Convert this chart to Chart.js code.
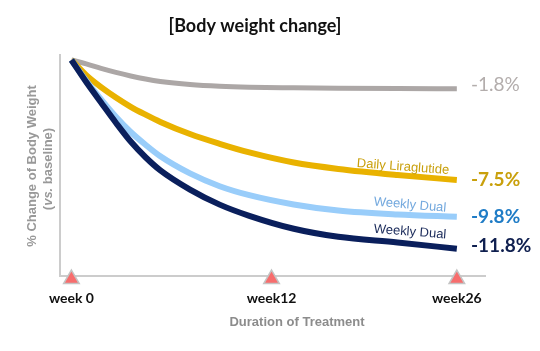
<!DOCTYPE html>
<html>
<head>
<meta charset="utf-8">
<script src="https://cdn.jsdelivr.net/npm/chart.js@4.4.0/dist/chart.umd.min.js"></script>
<style>
  html, body { margin: 0; padding: 0; background: #fff; }
  #wrap { width: 540px; height: 351px; }
</style>
</head>
<body>
<div id="wrap"><canvas id="bwChart" width="540" height="351"></canvas></div>
<script>
// weeks along the treatment (x positions)
var weeks = [0, 1, 2, 3, 4, 5, 6, 8, 10, 12, 15, 18, 22, 26];

// % change of body weight vs. baseline
var placebo     = [0, -0.25, -0.53, -0.78, -1.0, -1.19, -1.34, -1.53, -1.64, -1.7, -1.74, -1.77, -1.79, -1.8];
var liraglutide = [0, -0.95, -1.7, -2.35, -2.93, -3.42, -3.87, -4.63, -5.24, -5.78, -6.41, -6.81, -7.19, -7.5];
var dualLow     = [0, -1.31, -2.47, -3.55, -4.5, -5.3, -6.02, -7.09, -7.89, -8.45, -9.03, -9.41, -9.66, -9.8];
var dualHigh    = [0, -1.38, -2.66, -3.92, -5.1, -6.08, -6.9, -8.1, -9.04, -9.74, -10.55, -11.05, -11.4, -11.8];

// tick marks on the time axis (positions as drawn) and their labels
var tickPos = [0, 13.5, 26];
var tickLabels = ['week 0', 'week12', 'week26'];

var endLabels = ['-1.8%', '-7.5%', '-9.8%', '-11.8%'];
var seriesNames = ['', 'Daily Liraglutide', 'Weekly Dual', 'Weekly Dual'];

function toPoints(vals) {
    return weeks.map(function(w, i) { return { x: w, y: vals[i] }; });
}

var yMin = -13.5, yMax = 0.31;

var markers = tickPos.map(function(p) { return { x: p, y: -13.69 }; });

var annotate = {
    id: 'annotate',
    afterDraw: function(chart) {
        var c = chart.ctx;
        c.save();

        // title
        c.fillStyle = '#111';
        c.font = 'bold 18px Lato';
        c.textAlign = 'center';
        c.textBaseline = 'middle';
        c.fillText('[Body weight change]', 255, 26);

        // x axis title
        c.fillStyle = '#8c8c8c';
        c.font = 'bold 13px "Liberation Sans"';
        c.fillText('Duration of Treatment', 297, 322);

        // y axis title (two lines, rotated)
        c.save();
        c.translate(32, 166);
        c.rotate(-Math.PI / 2);
        c.fillStyle = '#999999';
        c.font = 'bold 13px "Liberation Sans"';
        c.fillText('% Change of Body Weight', 0, 0);
        c.restore();

        c.save();
        c.translate(48, 169);
        c.rotate(-Math.PI / 2);
        c.fillStyle = '#999999';
        c.textAlign = 'left';
        var p1 = '(', p2 = 'vs.', p3 = ' baseline)';
        c.font = 'bold 13px "Liberation Sans"';
        var w1 = c.measureText(p1).width, w3 = c.measureText(p3).width;
        c.font = 'italic bold 13px "Liberation Sans"';
        var w2 = c.measureText(p2).width;
        var sx = -(w1 + w2 + w3) / 2;
        c.font = 'bold 13px "Liberation Sans"';
        c.fillText(p1, sx, 0);
        c.font = 'italic bold 13px "Liberation Sans"';
        c.fillText(p2, sx + w1, 0);
        c.font = 'bold 13px "Liberation Sans"';
        c.fillText(p3, sx + w1 + w2, 0);
        c.restore();

        // end values
        var endCols = ['#b3adac', '#c9a00c', '#1f7cc6', '#0f1f4f'];
        var endY = [85, 180, 217, 246];
        c.textAlign = 'left';
        for (var i = 0; i < 4; i++) {
            c.fillStyle = endCols[i];
            c.font = (i === 0 ? '' : 'bold ') + '19px Lato';
            c.fillText(endLabels[i], 471, endY[i]);
        }

        // series names along the curves
        var nameCols = ['', '#c9a00c', '#74a9de', '#1a2a5a'];
        var nameCx = [0, 403, 410, 410];
        var nameCy = [0, 167, 205, 232];
        var nameRot = [0, 4.3, 5, 4.5];
        c.textAlign = 'center';
        c.font = '13px "Liberation Sans"';
        for (var j = 1; j < 4; j++) {
            c.save();
            c.translate(nameCx[j], nameCy[j]);
            c.rotate(nameRot[j] * Math.PI / 180);
            c.fillStyle = nameCols[j];
            c.fillText(seriesNames[j], 0, 0);
            c.restore();
        }
        c.restore();
    }
};

var ctx = document.getElementById('bwChart').getContext('2d');
var bwChart = new Chart(ctx, {
    type: 'line',
    data: {
        datasets: [
            {
                label: 'Weekly Dual (high)',
                data: toPoints(dualHigh),
                borderColor: '#0a1f5c',
                borderWidth: 6,
                pointRadius: 0,
                cubicInterpolationMode: 'monotone'
            },
            {
                label: 'Weekly Dual',
                data: toPoints(dualLow),
                borderColor: '#99cdfa',
                borderWidth: 6,
                pointRadius: 0,
                cubicInterpolationMode: 'monotone'
            },
            {
                label: 'Daily Liraglutide',
                data: toPoints(liraglutide),
                borderColor: '#e9b200',
                borderWidth: 6,
                pointRadius: 0,
                cubicInterpolationMode: 'monotone'
            },
            {
                label: 'Placebo',
                data: toPoints(placebo),
                borderColor: '#aca7a6',
                borderWidth: 5,
                pointRadius: 0,
                cubicInterpolationMode: 'monotone'
            },
            {
                label: 'markers',
                data: markers,
                showLine: false,
                pointStyle: 'triangle',
                pointRadius: 9,
                backgroundColor: '#f76d6d',
                borderColor: '#c4c4c4',
                borderWidth: 1.5,
                clip: false
            }
        ]
    },
    options: {
        responsive: false,
        animation: false,
        layout: { padding: { top: 55, right: 55, left: 0, bottom: 0 } },
        plugins: {
            legend: { display: false },
            tooltip: { enabled: false }
        },
        scales: {
            x: {
                type: 'linear',
                min: -0.77,
                max: 27.9,
                grid: { display: false, drawTicks: false },
                border: { display: true, color: '#cccccc', width: 2 },
                afterBuildTicks: function(scale) {
                    scale.ticks = tickPos.map(function(p) { return { value: p }; });
                },
                afterFit: function(scale) { scale.height = 75; },
                ticks: {
                    autoSkip: false,
                    maxRotation: 0,
                    padding: 14,
                    color: '#111',
                    font: { family: 'Lato', size: 14, weight: 'bold' },
                    callback: function(v, i) { return tickLabels[i]; }
                }
            },
            y: {
                min: yMin,
                max: yMax,
                grid: { display: false, drawTicks: false },
                border: { display: true, color: '#cccccc', width: 2 },
                ticks: { display: false },
                afterFit: function(scale) { scale.width = 60; }
            }
        }
    },
    plugins: [annotate]
});
</script>
</body>
</html>
